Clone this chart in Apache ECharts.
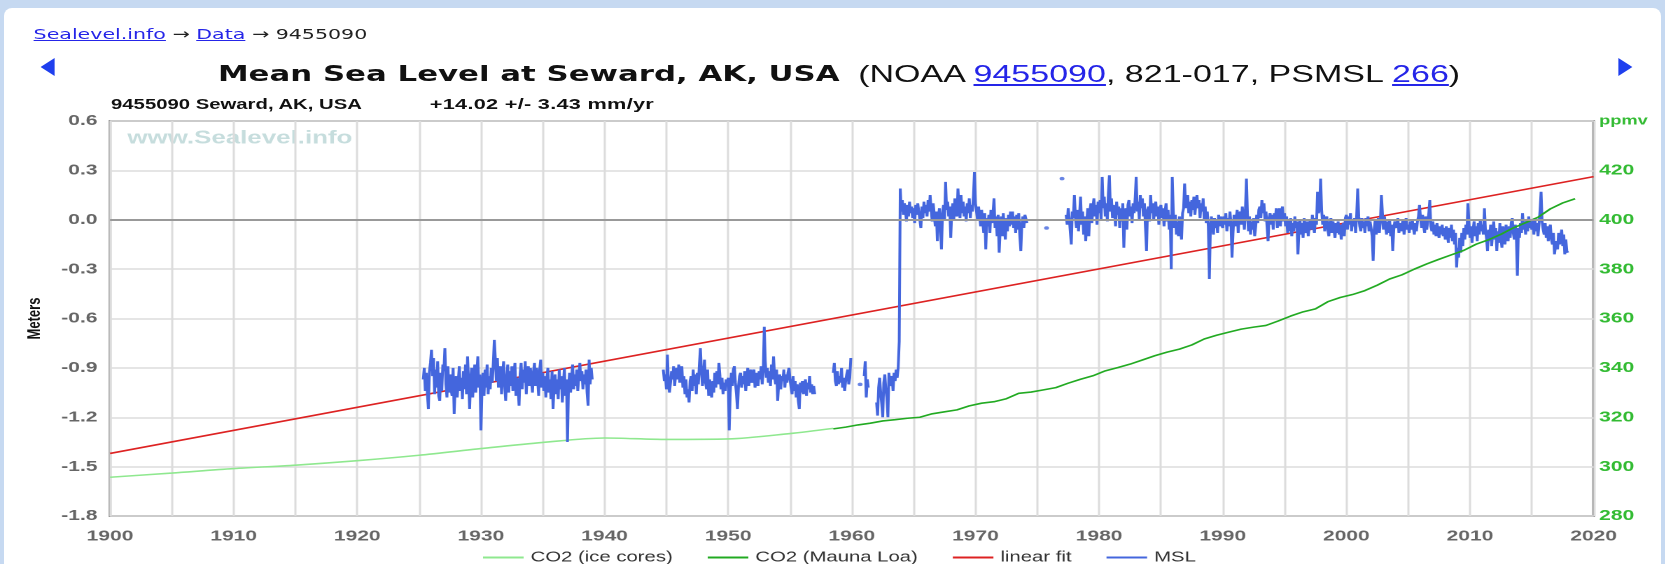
<!DOCTYPE html>
<html>
<head>
<meta charset="utf-8">
<script src="https://cdn.jsdelivr.net/npm/echarts@6/dist/echarts.min.js"></script>
<style>
  html, body { margin: 0; padding: 0; width: 1665px; height: 564px; overflow: hidden; background: #c6d9f1; }
  #panel { position: absolute; left: 4px; top: 8px; width: 1657px; height: 560px; background: #fff; border-radius: 8px 8px 0 0; }
  /* the reference is stretched sideways, so everything is laid out narrow and scaled */
  #wrap { position: absolute; left: 0; top: 0; width: 1189.3px; height: 564px; transform: scaleX(1.4); transform-origin: 0 0; }
  #chart { position: absolute; left: 0; top: 0; width: 1189.3px; height: 564px; }
  .t { position: absolute; white-space: nowrap; }
  .t a { color: #2525e8; text-decoration: underline; }
  .crumb { left: 24px; top: 25px; font: 14.7px/18px "DejaVu Sans", sans-serif; color: #222; }
  .title { left: 155.7px; top: 61px; font: bold 22px/26px "DejaVu Sans", sans-serif; color: #111; }
  .src { left: 613px; top: 60px; font: 24.3px/28px "Liberation Sans", sans-serif; color: #111; }
  .sub { top: 96px; font: bold 14.5px/16px "Liberation Sans", sans-serif; color: #111; }
  .rate { top: 95px; font: bold 15.5px/17px "Liberation Sans", sans-serif; letter-spacing: 0.2px; color: #111; }
  .arrowL { left: 28.6px; top: 58px; width: 0; height: 0; border-top: 9px solid transparent; border-bottom: 9px solid transparent; border-right: 10.7px solid #1f3fee; }
  .arrowR { left: 1155.7px; top: 58px; width: 0; height: 0; border-top: 9px solid transparent; border-bottom: 9px solid transparent; border-left: 10.7px solid #1f3fee; }
</style>
</head>
<body>
<div id="panel"></div>
<div id="wrap">
  <div class="t crumb"><a>Sealevel.info</a> → <a>Data</a> → 9455090</div>
  <div class="t arrowL"></div>
  <div class="t arrowR"></div>
  <div class="t title">Mean Sea Level at Seward, AK, USA</div>
  <div class="t src">(NOAA <a>9455090</a>, 821-017, PSMSL <a>266</a>)</div>
  <div class="t sub" style="left:79.3px">9455090 Seward, AK, USA</div>
  <div class="t rate" style="left:307px">+14.02 +/- 3.43 mm/yr</div>
  <div id="chart"></div>
</div>
<script>
// monthly MSL (m), each segment starts at the given decimal year
const msl1925Start = 1925 + 4 / 12
const msl1925 = [
  -0.97, -0.90, -1.04, -0.93, -1.06, -1.15, -0.92, -0.87,
  -0.79, -0.95, -0.84, -1.06, -0.91, -1.02, -0.86, -1.07, -1.10, -0.93, -1.04, -0.88,
  -0.92, -0.78, -1.00, -1.08, -0.89, -1.05, -0.94, -1.03, -1.07, -0.90, -1.18, -1.02,
  -0.95, -1.08, -0.98, -0.89, -1.04, -0.96, -1.09, -0.92, -1.03, -0.88, -1.06, -0.83,
  -0.98, -1.15, -0.97, -0.90, -1.08, -0.95, -0.88, -1.05, -0.93, -0.83, -1.02, -0.94,
  -1.28, -1.04, -0.93, -1.07, -0.91, -1.02, -0.88, -1.06, -0.95, -1.03, -0.90, -0.99,
  -0.87, -0.73, -0.85, -0.98, -0.84, -1.02, -0.92, -0.89, -1.06, -0.94, -0.86, -1.00,
  -1.10, -0.97, -0.88, -1.05, -0.92, -1.01, -0.89, -1.04, -0.95, -0.87, -1.07, -0.96,
  -1.02, -1.13, -0.94, -0.87, -1.03, -0.91, -0.99, -0.86, -1.06, -0.93, -0.89, -1.01,
  -0.90, -0.98, -1.05, -0.92, -0.87, -1.01, -0.90, -0.97, -1.07, -0.91, -0.85, -1.02,
  -0.93, -1.04, -0.95, -1.08, -0.96, -0.90, -1.05, -0.97, -1.09, -0.92, -1.15, -1.01,
  -0.94, -1.06, -0.97, -1.09, -0.91, -1.03, -0.95, -1.11, -1.00, -0.90, -1.07, -0.97,
  -1.35, -1.02, -0.93, -1.05, -0.96, -0.88, -1.03, -0.94, -1.01, -0.91, -1.04, -0.95,
  -0.87, -0.98, -0.92, -1.03, -0.94, -1.00, -0.91, -1.05, -1.13, -0.85, -1.00, -0.90,
  -0.97
]
const msl1944Start = 1944 + 9 / 12
const msl1944 = [
  -0.91, -0.98, -0.94,
  -1.03, -0.82, -1.00, -1.05, -0.99, -0.92, -0.97, -0.89, -1.01, -0.94, -0.90, -0.97,
  -0.88, -0.99, -0.92, -0.89, -1.02, -0.95, -1.06, -0.97, -1.08, -1.03, -1.11, -0.98,
  -0.95, -1.04, -0.91, -1.01, -0.94, -1.06, -0.93, -1.00, -0.88, -0.78, -0.92, -1.01,
  -0.94, -0.85, -0.99, -1.03, -0.91, -1.07, -0.97, -1.04, -1.08, -0.98, -1.05, -0.93,
  -1.02, -0.92, -1.00, -0.87, -0.95, -1.03, -0.96, -1.06, -0.99, -1.04, -0.97, -1.01,
  -0.96, -1.28, -1.05, -0.93, -1.01, -0.91, -0.89, -0.99, -1.06, -1.15, -1.01, -0.95,
  -0.93, -1.02, -0.95, -1.00, -0.92, -1.04, -0.96, -0.90, -1.01, -0.95, -0.91, -0.99,
  -0.96, -0.91, -1.02, -0.97, -0.93, -1.01, -0.92, -0.97, -0.89, -1.00, -0.92, -0.65,
  -0.86, -0.96, -0.90, -0.99, -0.92, -1.01, -0.88, -0.97, -0.83, -0.95, -1.00, -0.91,
  -1.10, -1.00, -0.94, -1.03, -0.95, -0.98, -0.91, -1.02, -0.94, -0.99, -0.93, -0.90,
  -0.97, -1.02, -1.06, -0.95, -1.04, -0.98, -1.08, -1.00, -1.10, -1.15, -0.99, -1.05,
  -0.98, -1.06, -1.01, -0.97, -1.07, -0.99, -1.03, -0.95, -1.05, -1.00, -1.06, -1.01,
  -1.06
]
const msl1958Start = 1958 + 6 / 12
const msl1958 = [
  -0.93, -0.87, -0.98, -1.01, -0.92, -1.00,
  -0.95, -0.99, -0.90, -1.02, -0.96, -1.04, -0.98, -0.94, -0.91, -1.00, -0.96, -0.84
]
const msl1961Start = 1961
const msl1961 = [-0.95, -0.86, -1.08, -0.97, -1.02]
const msl1962Start = 1962
const msl1962 = [
  -1.11, -1.19, -1.02, -0.96, -1.05, -1.12, -1.20, -0.99, -0.94, -1.03, -1.08, -1.20,
  -0.93, -1.01, -0.97, -0.95, -1.04, -0.93, -0.98, -0.91, -0.96, -0.90, -0.74, 0.19,
  0.05, 0.12, 0.03, 0.10, 0.06, -0.01, 0.09, 0.02, 0.11, 0.04, 0.08, 0.01,
  0.07, -0.02, 0.09, 0.03, 0.10, 0.05, 0.00, -0.05, 0.08, 0.01, 0.11, 0.04,
  0.09, 0.02, 0.12, 0.05, 0.15, 0.06, -0.01, 0.10, 0.03, -0.04, 0.05, -0.13,
  0.01, 0.07, -0.05, -0.18, 0.04, 0.09, 0.00, 0.23, 0.06, 0.11, 0.02, 0.08,
  -0.11, 0.05, 0.10, 0.00, 0.13, 0.06, 0.02, 0.19, 0.08, 0.01, 0.15, 0.04,
  0.11, 0.02, 0.08, -0.01, 0.10, 0.04, 0.13, 0.01, 0.09, 0.05, 0.14, 0.29,
  0.10, 0.05, 0.00, 0.08, 0.02, -0.04, 0.06, -0.01, -0.08, 0.04, -0.18, 0.01,
  -0.04, 0.03, -0.08, 0.06, -0.02, 0.04, 0.13, -0.05, 0.02, -0.10, 0.03, -0.20,
  -0.06, 0.02, -0.10, 0.04, -0.05, -0.12, 0.01, -0.07, 0.03, -0.04, 0.05, -0.03,
  0.05, -0.05, 0.02, -0.08, 0.03, -0.06, 0.04, -0.09, -0.19, -0.03, 0.02, -0.05,
  0.03, 0.04, -0.02
]
const msl1977Start = 1977 + 4 / 12
const msl1977 = [
  0.03, -0.03, 0.07, 0.01, -0.07, -0.15, 0.05, 0.01,
  0.15, 0.02, -0.05, 0.06, -0.07, 0.03, 0.14, -0.03, 0.05, -0.09, 0.02, -0.13,
  -0.01, 0.07, -0.10, 0.05, 0.10, -0.02, 0.08, 0.13, 0.02, 0.09, -0.03, 0.11,
  0.04, 0.12, 0.00, 0.26, 0.07, 0.14, 0.02, 0.10, -0.01, 0.16, 0.27, 0.05,
  0.13, 0.01, 0.09, 0.04, -0.04, 0.11, 0.03, 0.08, -0.05, 0.07, -0.01, 0.10,
  -0.17, 0.03, 0.07, -0.06, 0.09, 0.12, 0.02, 0.08, -0.02, 0.10, 0.04, 0.13,
  0.26, 0.05, 0.11, 0.00, 0.15, 0.07, 0.13, 0.02, 0.10, -0.05, -0.19, 0.06,
  0.08, -0.01, 0.15, 0.04, 0.10, 0.00, 0.07, 0.11, 0.02, 0.08, -0.03, 0.06,
  0.09, 0.01, 0.07, -0.04, 0.05, 0.10, -0.01, 0.06, -0.06, 0.03, -0.30, 0.26,
  0.05, -0.05, 0.03, -0.09, -0.01, -0.10, 0.02, -0.06, -0.12, 0.04, 0.07, 0.22,
  0.07, 0.13, 0.15, 0.04, 0.11, 0.02, 0.12, 0.06, 0.14, 0.03, 0.10, 0.15,
  0.07, 0.12, 0.01, 0.10, 0.05, 0.13, 0.00, 0.08, -0.02, 0.05, -0.04, -0.36,
  -0.06, 0.02, -0.04, -0.09, 0.01, -0.05, 0.00, -0.08, 0.03, -0.04, 0.02, -0.03,
  -0.05, 0.02, -0.03, 0.04, -0.07, 0.01, -0.04, 0.05, -0.02, -0.23, -0.08, 0.03,
  -0.04, 0.01, 0.06, -0.08, 0.02, 0.05, -0.03, 0.08, 0.01, -0.06, 0.06, 0.25,
  0.04, -0.07, 0.02, -0.09, -0.01, -0.06, 0.01, -0.10, -0.04, 0.03, -0.02, 0.06,
  0.08, 0.01, 0.12, 0.04, 0.10, -0.01, 0.05, -0.04, -0.13, 0.01, 0.04, -0.03,
  0.03, -0.06, 0.04, 0.00, 0.07, -0.05, 0.03, 0.07, -0.04, 0.05, 0.08, -0.01,
  0.04, -0.04, 0.02, -0.08, 0.00, -0.07, 0.01, -0.10, -0.02, -0.07, 0.02, -0.05,
  -0.01, -0.21, -0.06, 0.00, -0.09, -0.02, -0.11, 0.01, -0.05, -0.08, -0.01, -0.10,
  -0.04, 0.00, -0.06, 0.03, -0.04, -0.08, 0.01, -0.03, 0.17, 0.04, 0.07, 0.25,
  0.06, -0.03, 0.03, -0.07, 0.00, 0.02, -0.06, -0.10, -0.02, 0.01, -0.08, -0.01,
  -0.06, -0.11, -0.02, -0.08, -0.01, -0.09, -0.03, -0.12, -0.05, -0.02, -0.10, 0.01,
  0.03, -0.06, 0.02, -0.03, 0.04, -0.07, 0.00, -0.04, 0.01, -0.08, 0.03, 0.19,
  0.02, -0.04, -0.07, 0.01, -0.05, -0.01, -0.08, 0.01, -0.04, 0.02, -0.07, -0.01,
  -0.05, -0.10, -0.25, -0.06, 0.00, -0.09, -0.02, 0.01, -0.08, -0.01, 0.15, 0.04,
  -0.06, 0.02, -0.04, -0.09, -0.01, -0.08, 0.00, -0.10, -0.03, -0.19, -0.06, -0.01,
  0.00, -0.05, 0.01, -0.08, -0.02, -0.07, -0.03, 0.00, -0.09, -0.04, 0.01, -0.06,
  -0.03, -0.08, -0.01, -0.06, 0.00, -0.05, -0.09, -0.02, -0.07, -0.01, 0.02, 0.09,
  0.01, -0.05, 0.03, -0.04, -0.08, 0.02, -0.06, -0.01, 0.04, 0.12, -0.04, -0.07,
  -0.01, -0.09, -0.03, -0.10, -0.02, -0.07, -0.11, -0.04, -0.09, -0.03, -0.10, -0.05,
  -0.12, -0.04, -0.09, -0.14, -0.05, -0.11, -0.03, -0.13, -0.06, -0.15, -0.08, -0.29,
  -0.17, -0.23, -0.11, -0.20, -0.08, -0.16, -0.05, -0.12, -0.03, -0.09, 0.10, -0.02,
  -0.11, -0.04, -0.14, -0.06, -0.01, -0.10, -0.04, -0.13, -0.02, -0.09, 0.00, -0.07,
  -0.03, -0.09, 0.07, -0.06, -0.11, -0.19, -0.06, -0.13, -0.03, -0.16, -0.08, -0.01,
  -0.12, -0.05, -0.19, -0.07, -0.14, -0.02, -0.11, -0.17, -0.04, -0.10, -0.15, -0.03,
  -0.09, -0.13, -0.04, -0.11, -0.02, 0.01, -0.08, -0.12, -0.03, -0.10, -0.34, -0.05,
  -0.11, -0.02, -0.08, 0.04, -0.06, -0.01, -0.09, 0.00, -0.07, 0.02, -0.05, -0.01,
  -0.06, 0.00, -0.09, 0.01, -0.07, -0.02, -0.10, -0.03, 0.06, 0.17, -0.01, -0.06,
  -0.09, -0.02, -0.11, -0.04, -0.13, -0.06, -0.03, -0.12, -0.15, -0.08, -0.21, -0.16,
  -0.13, -0.18, -0.08, -0.15, -0.10, -0.06, -0.16, -0.09, -0.21, -0.12, -0.19, -0.20
]
// lone monthly values with no neighbours
const mslDots = [[1960.67, -1.00], [1975.75, -0.05], [1977.0, 0.25]]

// CO2 ppmv
const iceYears = [1900, 1905, 1910, 1915, 1920, 1925, 1930, 1935, 1940, 1945, 1950, 1955, 1958.5]
const iceCo2 = [295.7, 297.4, 299.2, 300.6, 302.4, 304.6, 307.3, 309.8, 311.6, 311.0, 311.2, 313.4, 315.5]
const mloYears = [1958, 1959, 1960, 1961, 1962, 1963, 1964, 1965, 1966, 1967, 1968, 1969, 1970,
  1971, 1972, 1973, 1974, 1975, 1976, 1977, 1978, 1979, 1980, 1981, 1982, 1983, 1984, 1985,
  1986, 1987, 1988, 1989, 1990, 1991, 1992, 1993, 1994, 1995, 1996, 1997, 1998, 1999, 2000,
  2001, 2002, 2003, 2004, 2005, 2006, 2007, 2008, 2009, 2010, 2011, 2012, 2013, 2014, 2015,
  2016, 2017, 2018]
const mloCo2 = [315.3, 316.0, 316.9, 317.6, 318.5, 319.0, 319.6, 320.0, 321.4, 322.2, 323.0, 324.6, 325.7,
  326.3, 327.5, 329.7, 330.2, 331.1, 332.0, 333.8, 335.4, 336.8, 338.8, 340.1, 341.5, 343.2, 344.9, 346.4,
  347.6, 349.3, 351.7, 353.2, 354.5, 355.7, 356.5, 357.2, 359.0, 361.0, 362.7, 363.9, 366.8, 368.5, 369.7,
  371.3, 373.5, 376.0, 377.7, 380.0, 382.1, 384.0, 385.8, 387.6, 390.1, 391.9, 394.1, 396.7, 398.8, 401.0,
  404.4, 406.8, 408.5]

// linear fit, 14.02 mm/yr
const fitYears = [1900, 2020]
const fitVals = [-1.42, 0.262]

const gap = x => [x, '-']
const monthly = (start, vals) => vals.map((v, i) => [+(start + i / 12).toFixed(3), v])
const mslData = [].concat(
  monthly(msl1925Start, msl1925), [gap(1942)],
  monthly(msl1944Start, msl1944), [gap(1958)],
  monthly(msl1958Start, msl1958), [gap(1960.5)],
  monthly(msl1961Start, msl1961), [gap(1961.7)],
  monthly(msl1962Start, msl1962), [gap(1976)],
  monthly(msl1977Start, msl1977)
)

const font = 'Liberation Sans'
const chart = echarts.init(document.getElementById('chart'), null, { devicePixelRatio: 2 })
chart.setOption({
  animation: false,
  grid: { left: 78.6, right: 50.7, top: 121, bottom: 48, show: true, borderColor: '#9a9a9a', borderWidth: 2 },
  graphic: [{
    type: 'text', left: 91, top: 129, silent: true,
    style: { text: 'www.Sealevel.info', fill: '#c6dddd', font: 'bold 18.5px "Liberation Sans"' }
  }],
  legend: {
    left: 340, top: 545, icon: 'rect', itemWidth: 29, itemHeight: 2, itemGap: 25,
    selectedMode: false,
    textStyle: { fontFamily: font, fontSize: 14.5, color: '#333' },
    data: ['CO2 (ice cores)', 'CO2 (Mauna Loa)', 'linear fit', 'MSL']
  },
  xAxis: {
    type: 'value', min: 1900, max: 2020, interval: 5,
    axisLine: { show: false }, axisTick: { show: false },
    splitLine: { lineStyle: { color: '#dcdcdc', width: 1.5 } },
    axisLabel: {
      margin: 13, color: '#666', fontWeight: 'bold', fontSize: 15, fontFamily: font,
      formatter: v => (v % 10 === 0 ? String(v) : '')
    }
  },
  yAxis: [{
    type: 'value', min: -1.8, max: 0.6, interval: 0.3,
    name: 'Meters', nameLocation: 'middle', nameRotate: 90, nameGap: 47,
    nameTextStyle: { fontFamily: font, fontWeight: 'bold', fontSize: 13, color: '#111' },
    axisLine: { show: false }, axisTick: { show: false },
    splitLine: { lineStyle: { color: '#dcdcdc', width: 1.5 } },
    axisLabel: {
      margin: 9, color: '#666', fontWeight: 'bold', fontSize: 15, fontFamily: font,
      formatter: v => v.toFixed(1)
    }
  }, {
    type: 'value', min: 280, max: 440, interval: 20, position: 'right',
    axisLine: { show: false }, axisTick: { show: false }, splitLine: { show: false },
    axisLabel: {
      margin: 4, color: '#33bb33', fontWeight: 'bold', fontSize: 15, fontFamily: font,
      showMaxLabel: true,
      formatter: v => (v === 440 ? '{p|ppmv}' : String(v)),
      rich: { p: { fontFamily: font, fontSize: 13, color: '#33bb33' } }
    }
  }],
  series: [{
    name: 'linear fit', type: 'line', yAxisIndex: 0, showSymbol: false,
    data: fitYears.map((y, i) => [y, fitVals[i]]),
    lineStyle: { color: '#dd2222', width: 1.6 }, itemStyle: { color: '#dd2222' },
    markLine: {
      silent: true, symbol: 'none', label: { show: false },
      lineStyle: { color: '#999', width: 2, type: 'solid' },
      data: [{ yAxis: 0 }]
    }
  }, {
    name: 'CO2 (ice cores)', type: 'line', yAxisIndex: 1, showSymbol: false, smooth: 0.3,
    data: iceYears.map((y, i) => [y, iceCo2[i]]),
    lineStyle: { color: '#8fe88f', width: 1.6 }, itemStyle: { color: '#8fe88f' }
  }, {
    name: 'MSL', type: 'line', yAxisIndex: 0, showSymbol: false,
    data: mslData,
    lineStyle: { color: '#4466dd', width: 2 }, itemStyle: { color: '#4466dd' }
  }, {
    name: 'MSL', type: 'scatter', yAxisIndex: 0, symbolSize: 3.5,
    data: mslDots, itemStyle: { color: '#4466dd' }
  }, {
    name: 'CO2 (Mauna Loa)', type: 'line', yAxisIndex: 1, showSymbol: false,
    data: mloYears.map((y, i) => [y + 0.5, mloCo2[i]]),
    lineStyle: { color: '#22aa22', width: 1.6 }, itemStyle: { color: '#22aa22' }
  }]
})
</script>
</body>
</html>
